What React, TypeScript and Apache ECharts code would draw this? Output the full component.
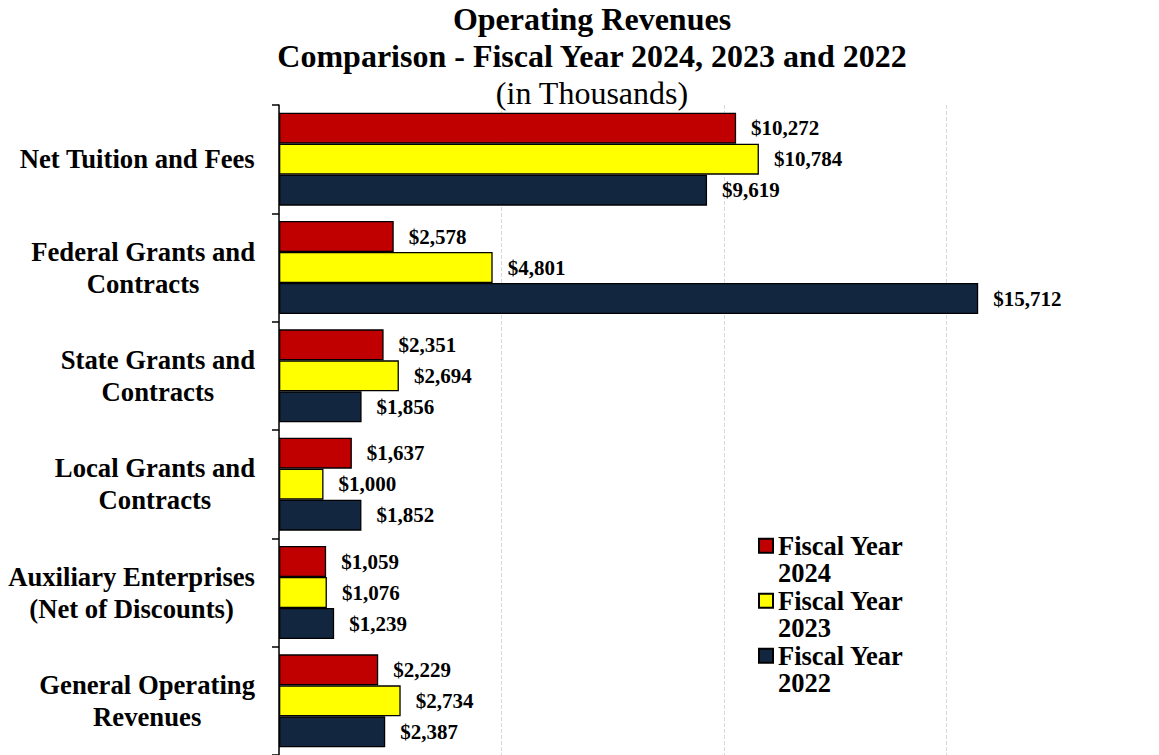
import React, { useEffect, useRef } from "react";
import * as echarts from "echarts";

const categories = [
  "Net Tuition and Fees",
  "Federal Grants and\nContracts",
  "State Grants and\nContracts",
  "Local Grants and\nContracts",
  "Auxiliary Enterprises\n(Net of Discounts)",
  "General Operating\nRevenues",
];

const fy2024 = [10272, 2578, 2351, 1637, 1059, 2229];
const fy2023 = [10784, 4801, 2694, 1000, 1076, 2734];
const fy2022 = [9619, 15712, 1856, 1852, 1239, 2387];

const seriesNames = ["Fiscal Year\n2024", "Fiscal Year\n2023", "Fiscal Year\n2022"];
const seriesColors = ["#C00000", "#FFFF00", "#12263F"];

const FONT = "'Liberation Serif', 'Times New Roman', serif";

export default function App() {
  const ref = useRef<HTMLDivElement>(null);

  useEffect(() => {
    if (!ref.current) return;
    const chart = echarts.init(ref.current, undefined, { renderer: "svg" });
    const dataSets = [fy2024, fy2023, fy2022];

    const option = {
      animation: false,
      backgroundColor: "#ffffff",
      title: [
        {
          text: "Operating Revenues",
          left: 587,
          top: -2,
          textAlign: "center",
          textStyle: { fontFamily: FONT, fontSize: 32, fontWeight: "bold", color: "#000" },
        },
        {
          text: "Comparison - Fiscal Year 2024, 2023 and 2022",
          left: 587,
          top: 35,
          textAlign: "center",
          textStyle: { fontFamily: FONT, fontSize: 32, fontWeight: "bold", color: "#000" },
        },
        {
          text: "(in Thousands)",
          left: 587,
          top: 72,
          textAlign: "center",
          textStyle: { fontFamily: FONT, fontSize: 32, fontWeight: "normal", color: "#000" },
        },
      ],
      legend: {
        orient: "vertical",
        left: 758,
        top: 532,
        padding: 0,
        itemGap: 0,
        itemWidth: 14,
        itemHeight: 41.5,
        symbolKeepAspect: false,
        icon: "path://M0,0L14,0L14,14L0,14Z M7,41.5L7,41.5",
        selectedMode: false,
        textStyle: {
          fontFamily: FONT,
          fontSize: 26.5,
          fontWeight: "bold",
          color: "#000",
          lineHeight: 27.5,
        },
        data: seriesNames,
      },
      grid: { left: 279, top: 105, width: 880, height: 654, containLabel: false },
      xAxis: {
        type: "value",
        min: 0,
        max: 19775,
        interval: 5000,
        axisLabel: { show: false },
        axisLine: { show: false },
        axisTick: { show: false },
        splitLine: {
          show: true,
          showMaxLine: false,
          lineStyle: { color: "#D9D9D9", type: "dashed", width: 1 },
        },
      },
      yAxis: {
        type: "category",
        inverse: true,
        data: categories,
        axisLine: { show: true, lineStyle: { color: "#000", width: 1.5 } },
        axisTick: { show: true, length: 7, lineStyle: { color: "#000", width: 1.5 } },
        axisLabel: {
          margin: 24,
          align: "right",
          formatter: (v: string) =>
            v
              .split("\n")
              .map((s) => "{c|" + s + "}")
              .join("\n"),
          rich: {
            c: {
              align: "center",
              fontFamily: FONT,
              fontSize: 26.7,
              fontWeight: "bold",
              color: "#000",
              lineHeight: 32,
            },
          },
        },
      },
      series: dataSets.map((d, i) => ({
        name: seriesNames[i],
        type: "bar",
        data: d,
        barWidth: 31,
        barGap: "0%",
        itemStyle: { color: seriesColors[i], borderColor: "#000", borderWidth: 1.3 },
        label: {
          show: true,
          position: "right",
          distance: 15,
          formatter: (p: any) => "$" + Number(p.value).toLocaleString("en-US"),
          fontFamily: FONT,
          fontSize: 21,
          fontWeight: "bold",
          color: "#000",
        },
      })),
    };

    chart.setOption(option as any);
    return () => chart.dispose();
  }, []);

  return (
    <div
      ref={ref}
      style={{ position: "absolute", left: 0, top: 0, width: 1159, height: 755 }}
    />
  );
}
